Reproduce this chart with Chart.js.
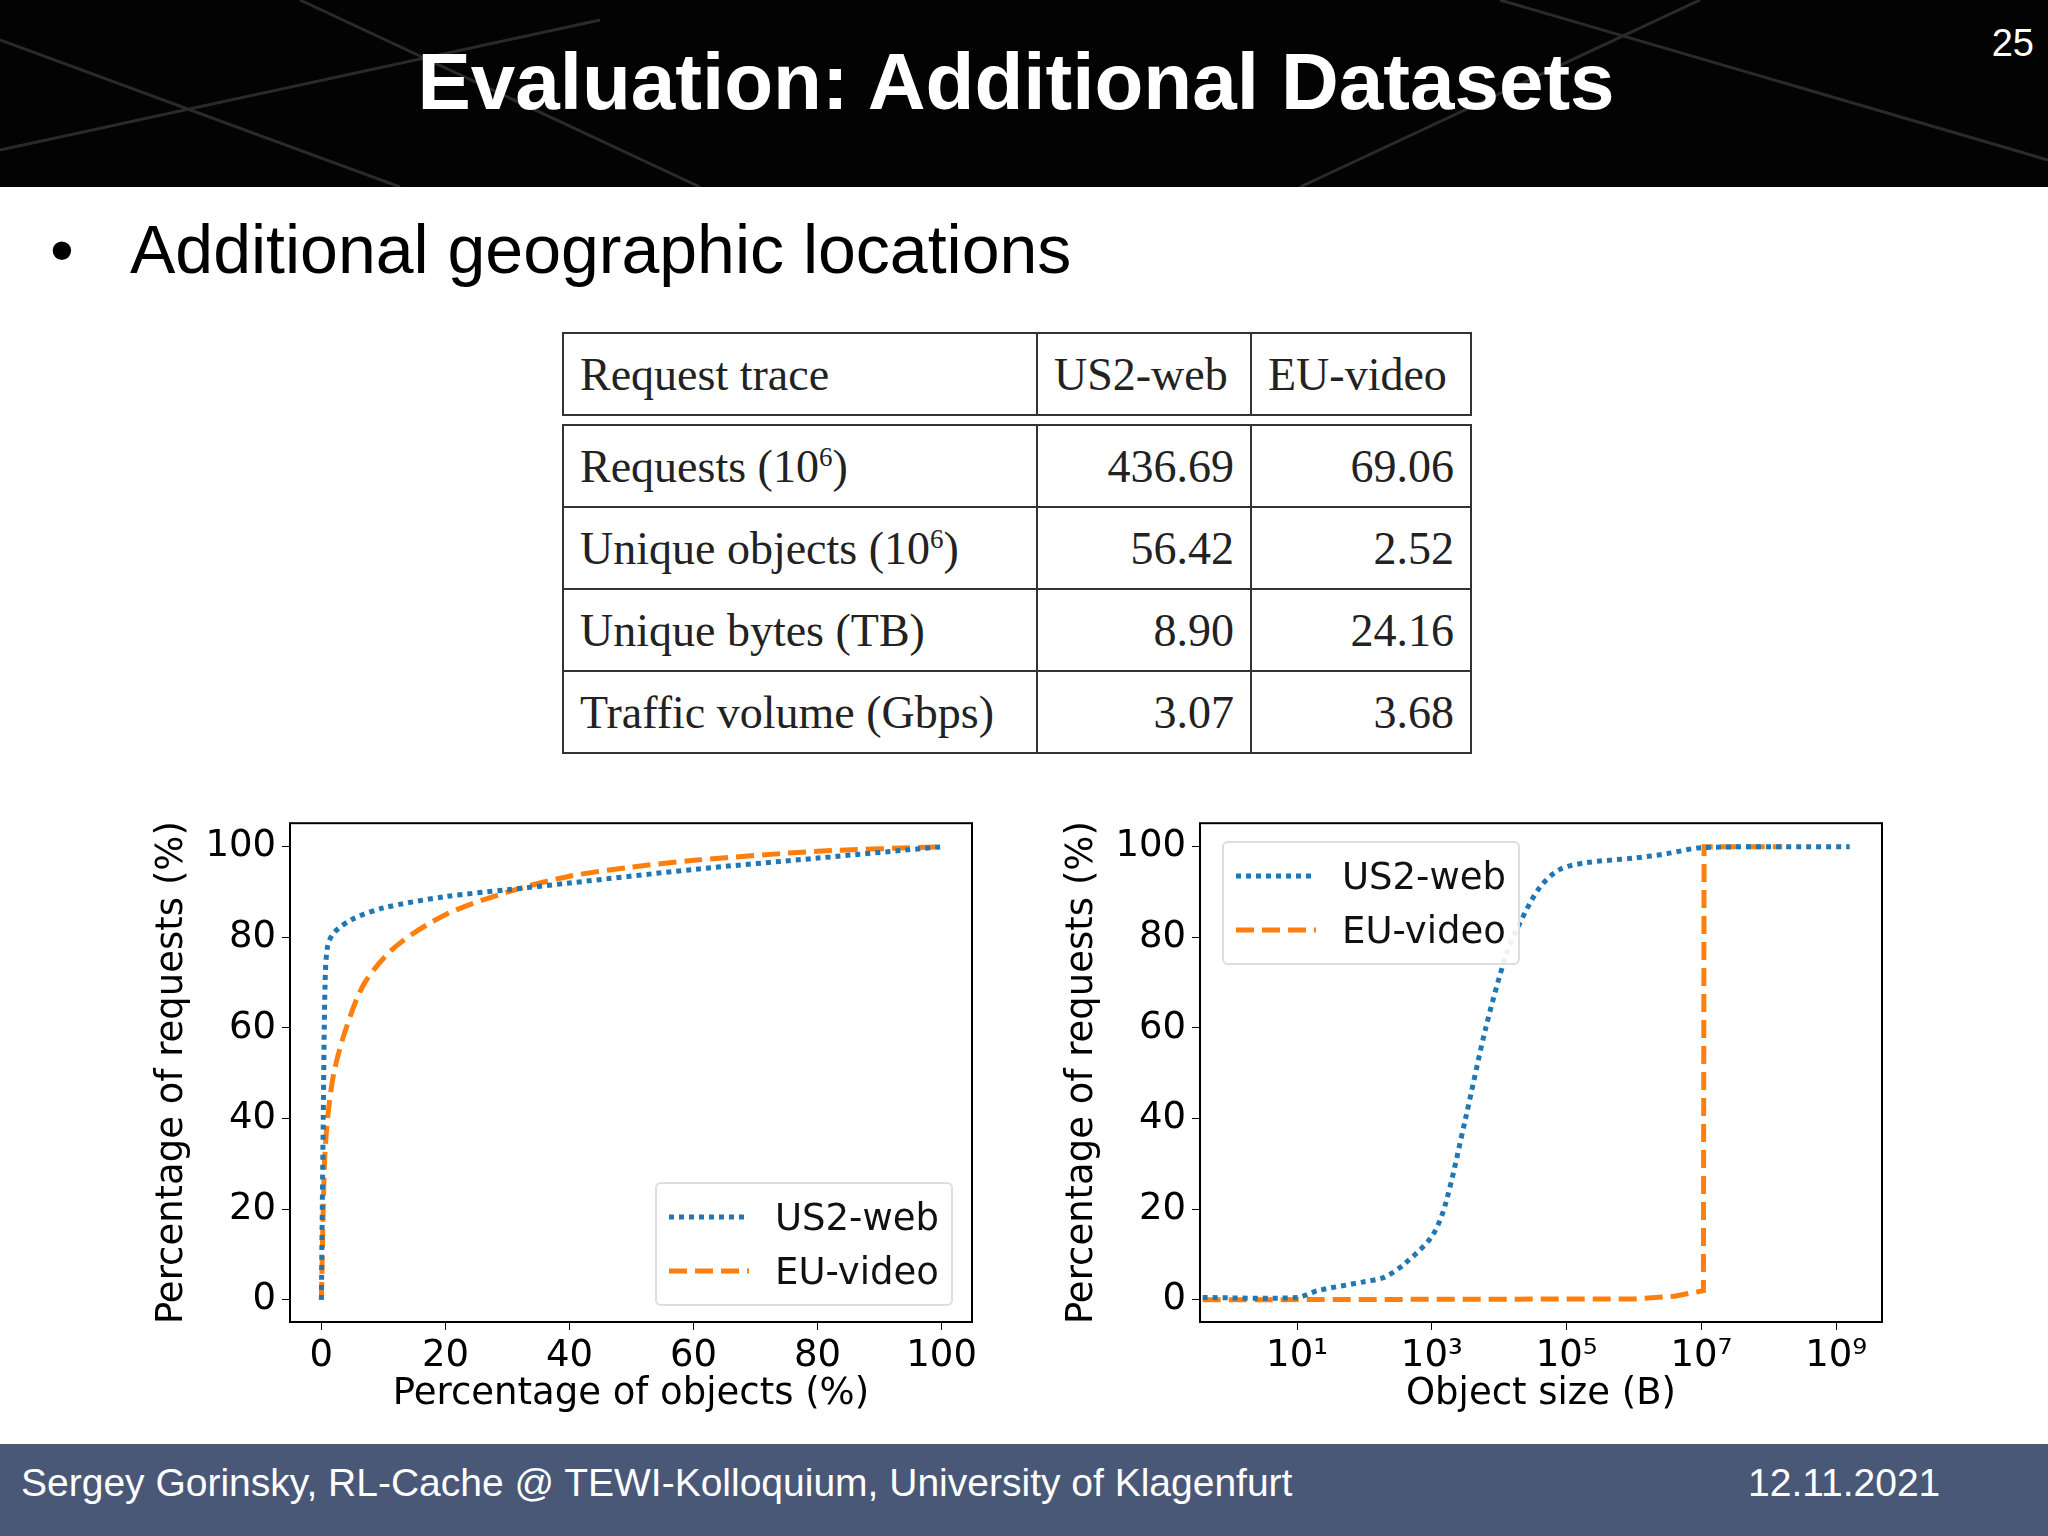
<!DOCTYPE html>
<html><head><meta charset="utf-8">
<script src="https://cdn.jsdelivr.net/npm/chart.js@4.4.0/dist/chart.umd.min.js"></script>
<style>
body{margin:0;width:2048px;height:1536px;background:#fff;position:relative;overflow:hidden;font-family:"Liberation Sans",Arial,sans-serif}
#top{position:absolute;left:0;top:0;width:2048px;height:187px;background:#030303}
#title{position:absolute;left:0;width:2032px;top:36px;text-align:center;color:#fff;font-weight:bold;font-size:80px}
#num{position:absolute;right:14px;top:22px;color:#fff;font-size:38px}
#bullet{position:absolute;left:50px;top:210px;font-size:68px;color:#000}
#bullet span{position:absolute;left:80px;white-space:nowrap}
table{position:absolute;left:562px;top:332px;border-collapse:collapse;font-family:"Liberation Serif","DejaVu Serif",serif;font-size:46px;color:#222}
td{border:2px solid #333;padding:0 16px;height:80px}
td.n{text-align:right}
#foot{position:absolute;left:0;top:1444px;width:2048px;height:92px;background:#4a5878;color:#fff;font-size:39px}
#foot .l{position:absolute;left:21px;top:17px}
#foot .r{position:absolute;left:1748px;top:17px}
.cw{position:absolute;top:795px;width:840px;height:640px}
.leg{position:absolute;border:2px solid #ddd;border-radius:6px;background:rgba(255,255,255,0.9);font-family:"DejaVu Sans",sans-serif;font-size:37px;color:#111;padding:6px 12px}
.leg div{height:54px;display:flex;align-items:center}
.leg svg{margin-right:26px}
</style></head><body>
<div id="top"><svg width="2048" height="187" style="position:absolute;left:0;top:0">
<g stroke="#2a2a2a" stroke-width="3" fill="none"><path d="M0 150 L600 20"/><path d="M300 0 L700 187"/><path d="M1300 187 L1700 0"/><path d="M1500 0 L2048 160"/><path d="M0 40 L400 187"/></g></svg>
<div id="title">Evaluation: Additional Datasets</div><div id="num">25</div></div>
<div id="bullet">•<span>Additional geographic locations</span></div>
<table>
<tr><td style="width:440px">Request trace</td><td style="width:180px">US2-web</td><td style="width:186px">EU-video</td></tr>
<tr><td colspan="3" style="height:8px;padding:0;border-left:none;border-right:none"></td></tr>
<tr><td>Requests (10<sup style="font-size:27px">6</sup>)</td><td class="n">436.69</td><td class="n">69.06</td></tr>
<tr><td>Unique objects (10<sup style="font-size:27px">6</sup>)</td><td class="n">56.42</td><td class="n">2.52</td></tr>
<tr><td>Unique bytes (TB)</td><td class="n">8.90</td><td class="n">24.16</td></tr>
<tr><td>Traffic volume (Gbps)</td><td class="n">3.07</td><td class="n">3.68</td></tr>
</table>
<div class="cw" style="left:150px"><canvas id="c1"></canvas>
<div class="leg" style="left:505px;top:387px;"><div><svg width="80" height="10"><line x1="0" y1="5" x2="80" y2="5" stroke="#1f77b4" stroke-width="5" stroke-dasharray="5 5"/></svg>US2-web</div><div><svg width="80" height="10"><line x1="0" y1="5" x2="80" y2="5" stroke="#ff7f0e" stroke-width="5" stroke-dasharray="18 8"/></svg>EU-video</div></div></div>
<div class="cw" style="left:1060px"><canvas id="c2"></canvas>
<div class="leg" style="left:162px;top:46px;"><div><svg width="80" height="10"><line x1="0" y1="5" x2="80" y2="5" stroke="#1f77b4" stroke-width="5" stroke-dasharray="5 5"/></svg>US2-web</div><div><svg width="80" height="10"><line x1="0" y1="5" x2="80" y2="5" stroke="#ff7f0e" stroke-width="5" stroke-dasharray="18 8"/></svg>EU-video</div></div></div>
<div id="foot"><span class="l">Sergey Gorinsky, RL-Cache @ TEWI-Kolloquium, University of Klagenfurt</span><span class="r">12.11.2021</span></div>
<script>
const seriesNames=["US2-web","EU-video"];
const objPctUS=[0,0.3,0.6,1,2,5,10,20,30,40,60,80,100];
const reqPctUS=[0,40,70,78,81,84,86.5,89,90.5,92,95,97.5,100];
const objPctEU=[0,0.5,1,2,4,7,12,20,30,40,50,60,80,100];
const reqPctEU=[0,30,40,50,60,70,78,85,90,93.5,95.5,97,99,100];
const sizeExpUS=[-0.4,1,1.3,2,2.3,2.6,3,3.2,3.5,3.8,4.1,4.3,4.6,4.9,5.3,6,6.5,7,9.2];
const reqSizeUS=[0.5,0.5,2,4,5,8,14,21,40,60,76,83,91,95,96.5,97.5,98.5,99.8,100];
const sizeExpEU=[-0.4,6,6.6,7.03,7.04,8.2];
const reqSizeEU=[0,0.2,0.8,2,100,100];
const yTicks=[0,20,40,60,80,100];
const xTicksLin=[0,20,40,60,80,100];
const xTickExps=[1,3,5,7,9];
const sup={"1":"¹","3":"³","5":"⁵","7":"⁷","9":"⁹"};
const F={family:"DejaVu Sans",size:37};
const frame={id:"frame",afterDraw(c){const a=c.chartArea,x=c.ctx;x.save();x.strokeStyle="#000";x.lineWidth=2;x.strokeRect(a.left,a.top,a.right-a.left,a.bottom-a.top);x.restore();}};
function ds(xs,ys,col,dash){return{data:xs.map((v,i)=>({x:v,y:ys[i]})),borderColor:col,borderWidth:5,borderDash:dash,pointRadius:0,fill:false,tension:0.3};}
function yScale(){return{min:-4.9,max:105.2,afterBuildTicks:s=>{s.ticks=yTicks.map(v=>({value:v}))},afterFit:s=>{s.width=140},
 grid:{drawOnChartArea:false,tickLength:8,color:"#000"},border:{display:false},ticks:{font:F,color:"#000",padding:6},
 title:{display:true,text:"Percentage of requests (%)",font:F,color:"#000",padding:0}};}
const xTitle=t=>({display:true,text:t,font:F,color:"#000",padding:{top:0,bottom:18}});
const common={responsive:true,maintainAspectRatio:false,animation:false,layout:{padding:{top:8,right:18}},plugins:{legend:{display:false},tooltip:{enabled:false}}};
new Chart(document.getElementById("c1"),{type:"line",plugins:[frame],data:{datasets:[ds(objPctUS,reqPctUS,"#1f77b4",[5,5]),ds(objPctEU,reqPctEU,"#ff7f0e",[18,8])]},
options:{...common,scales:{x:{type:"linear",min:-5.06,max:104.9,afterBuildTicks:s=>{s.ticks=xTicksLin.map(v=>({value:v}))},afterFit:s=>{s.height=113},
 grid:{drawOnChartArea:false,tickLength:8,color:"#000"},border:{display:false},ticks:{font:F,color:"#000",maxRotation:0,padding:4},
 title:xTitle("Percentage of objects (%)")},y:yScale()}}});
new Chart(document.getElementById("c2"),{type:"line",plugins:[frame],data:{datasets:[ds(sizeExpUS.map(e=>Math.pow(10,e)),reqSizeUS,"#1f77b4",[5,5]),{...ds(sizeExpEU.map(e=>Math.pow(10,e)),reqSizeEU,"#ff7f0e",[18,8]),tension:0}]},
options:{...common,scales:{x:{type:"logarithmic",min:Math.pow(10,-0.44),max:Math.pow(10,9.68),afterBuildTicks:s=>{s.ticks=xTickExps.map(e=>({value:Math.pow(10,e)}))},afterFit:s=>{s.height=113},
 grid:{drawOnChartArea:false,tickLength:8,color:"#000"},border:{display:false},ticks:{font:F,color:"#000",maxRotation:0,padding:4,callback:v=>"10"+sup[String(Math.round(Math.log10(v)))]},
 title:xTitle("Object size (B)")},y:yScale()}}});
</script></body></html>
